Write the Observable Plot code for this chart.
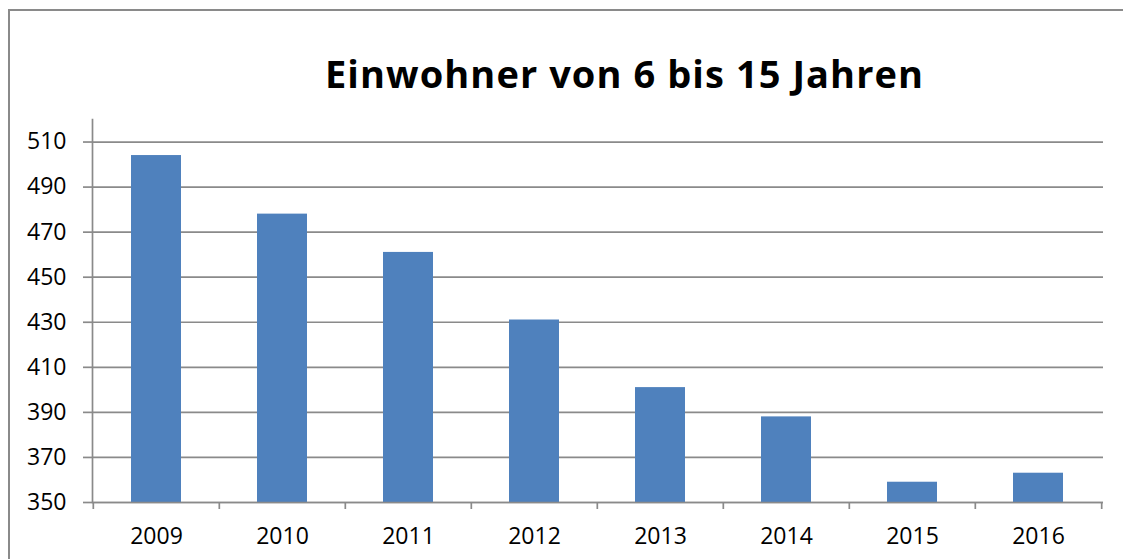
<!DOCTYPE html>
<html><head><meta charset="utf-8">
<script src="https://cdn.jsdelivr.net/npm/d3@7"></script>
<script src="https://cdn.jsdelivr.net/npm/@observablehq/plot@0.6"></script>
<style>
body{margin:0;background:#fff;width:1123px;height:559px;overflow:hidden;position:relative;font-family:"Open Sans",sans-serif}
#frame{position:absolute;left:8px;top:9px;width:1300px;height:700px;border-top:2px solid #8a8a8a;border-left:2px solid #8a8a8a}
#chart{position:absolute;left:0;top:0}
</style></head>
<body>
<div id="frame"></div>
<div id="chart"></div>
<script>
const title = "Einwohner von 6 bis 15 Jahren";
const years = ["2009","2010","2011","2012","2013","2014","2015","2016"];
const values = [504, 478, 461, 431, 401, 388, 359, 363];
const yTicks = [350, 370, 390, 410, 430, 450, 470, 490, 510];

const data = years.map((y, i) => ({year: y, value: values[i]}));
const gray = "#8a8a8a";
const W = 1123, H = 559, mL = 92, mR = 20;
const step = (W - mL - mR) / years.length;

const chart = Plot.plot({
  width: W, height: H,
  marginLeft: mL, marginRight: mR, marginTop: 119, marginBottom: 57,
  style: {fontFamily: "'Open Sans', sans-serif", fontSize: "23px", color: "#000", background: "transparent"},
  x: {domain: years, paddingInner: 0.6, paddingOuter: 0.3, label: null},
  y: {domain: [350, 520], label: null},
  marks: [
    Plot.gridY(yTicks, {stroke: gray, strokeOpacity: 1, strokeWidth: 1.7}),
    Plot.barY(data, {x: "year", y1: 350, y2: "value", fill: "#4f81bd"}),
    Plot.frame({anchor: "left", stroke: gray, strokeWidth: 1.7}),
    Plot.ruleY([350], {stroke: gray, strokeWidth: 1.7}),
    Plot.axisY({ticks: yTicks, tickSize: 9, tickPadding: 17, stroke: gray, strokeWidth: 1.7, tickFormat: d => String(d), fill: "#000"}),
    Plot.axisX({ticks: years, tickSize: 0, tickPadding: 25, fill: "#000"}),
    Plot.axisX({ticks: years, tickSize: 7, text: null, stroke: gray, strokeWidth: 1.7, dx: -step / 2}),
    Plot.axisX({ticks: years.slice(-1), tickSize: 7, text: null, stroke: gray, strokeWidth: 1.7, dx: step / 2})
  ]
});
document.getElementById("chart").appendChild(chart);
d3.select(chart).append("text")
  .attr("x", 624).attr("y", 88)
  .attr("text-anchor", "middle")
  .attr("font-family", "'Open Sans', sans-serif")
  .attr("font-weight", "bold")
  .attr("font-size", 38)
  .attr("textLength", 598)
  .attr("lengthAdjust", "spacing")
  .attr("fill", "#000")
  .text(title);
</script>
</body></html>
